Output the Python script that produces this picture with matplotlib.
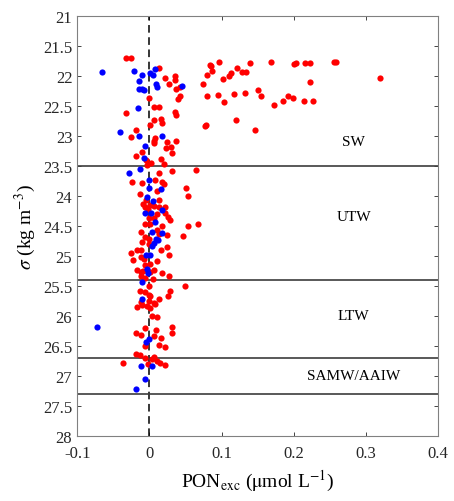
import matplotlib
matplotlib.use("Agg")
import matplotlib.pyplot as plt

# pontos vermelhos (PON_exc, sigma)
red_x = [-0.032, -0.025, 0.013, 0.021, 0.027, 0.035, 0.036, 0.037, 0.043, 0.043, 0.040,
         0.074, 0.080, 0.080, 0.000, 0.006, 0.014, -0.033, 0.035, 0.037, 0.016, 0.006,
         0.001, 0.017, 0.078, -0.018, -0.025, 0.008, 0.006, 0.006, 0.024, 0.037, 0.023,
         0.030, -0.010, 0.031, -0.019, -0.005, 0.002, -0.003, 0.016, 0.020, 0.014, 0.031,
         0.065,
         -0.024, -0.010, 0.008, 0.018, 0.020, 0.010, 0.051, 0.054, -0.013, -0.005, 0.014,
         -0.009, -0.006, 0.001, 0.006, 0.013, 0.021, -0.002, 0.011, 0.021, 0.026, 0.029,
         -0.001, 0.006, -0.006, 0.001, 0.018, 0.054, 0.068, 0.011, 0.013, -0.011, 0.025,
         0.046, -0.006, -0.001,
         -0.010, -0.001, 0.025, 0.016, 0.027, -0.025, -0.017, -0.011, -0.012, -0.008,
         -0.023, 0.010, 0.001, -0.006, -0.017, -0.012, -0.009, 0.001, 0.007, 0.018, 0.027,
         -0.012, -0.006, 0.005, -0.001, 0.050, -0.013, -0.006, 0.028, -0.001, 0.001, 0.026,
         0.014, -0.012, -0.001, 0.007, -0.017, 0.001,
         -0.010, -0.003, 0.008, 0.003, 0.010, -0.006, 0.009, 0.031, 0.032, -0.018, -0.012,
         0.007, 0.016, -0.006, 0.014, 0.021, -0.019, -0.013, -0.006, 0.006, 0.004, -0.036,
         -0.002, 0.010, 0.015, 0.022,
         0.096, 0.084, 0.086, 0.087, 0.102, 0.113, 0.111, 0.121, 0.128, 0.134, 0.139,
         0.095, 0.103, 0.117, 0.133, 0.150, 0.154, 0.168, 0.201, 0.203, 0.215, 0.222,
         0.222, 0.256, 0.258, 0.319, 0.172, 0.185, 0.192, 0.199, 0.214, 0.227, 0.077,
         0.120, 0.146]
red_y = [21.70, 21.70, 21.87, 22.03, 22.13, 22.00, 22.07, 22.22, 22.18, 22.34, 22.38,
         22.14, 21.98, 22.33, 22.37, 22.52, 22.51, 22.62, 22.60, 22.65, 22.72, 22.74,
         22.81, 22.79, 22.82, 22.90, 23.02, 23.04, 23.08, 23.12, 23.10, 23.09, 23.20,
         23.19, 23.26, 23.29, 23.33, 23.40, 23.45, 23.48, 23.39, 23.47, 23.62, 23.59,
         23.57,
         23.76, 23.78, 23.74, 23.77, 23.80, 23.91, 23.87, 24.00, 23.97, 24.07, 24.06,
         24.13, 24.18, 24.15, 24.16, 24.19, 24.18, 24.22, 24.30, 24.29, 24.35, 24.40,
         24.36, 24.36, 24.46, 24.47, 24.50, 24.50, 24.47, 24.57, 24.63, 24.60, 24.65,
         24.67, 24.69, 24.72,
         24.77, 24.80, 24.86, 24.91, 24.99, 24.95, 24.91, 24.90, 25.02, 25.05,
         25.07, 25.08, 25.13, 25.16, 25.23, 25.27, 25.26, 25.27, 25.23, 25.29, 25.33,
         25.34, 25.37, 25.38, 25.50, 25.50, 25.59, 25.61, 25.58, 25.65, 25.67, 25.67,
         25.72, 25.77, 25.76, 25.78, 25.86, 25.87,
         25.82, 25.84, 25.80, 26.00, 26.02, 26.20, 26.23, 26.19, 26.29, 26.29, 26.32,
         26.34, 26.37, 26.50, 26.49, 26.52, 26.64, 26.66, 26.70, 26.68, 26.72, 26.78,
         26.80, 26.76, 26.79, 26.82,
         21.76, 21.81, 21.84, 21.92, 22.05, 21.95, 22.00, 21.87, 21.93, 21.94, 21.79,
         22.32, 22.43, 22.30, 22.28, 22.24, 22.33, 21.77, 21.80, 21.78, 21.78, 21.78,
         22.10, 21.77, 21.76, 22.04, 22.48, 22.41, 22.33, 22.37, 22.42, 22.42, 22.83,
         22.74, 22.90]

# pontos azuis
blue_x = [-0.065, -0.021, 0.001, 0.008, 0.005, -0.010, -0.014, 0.009, 0.011, -0.015,
          -0.010, -0.007, 0.045, -0.016, -0.041, -0.014, 0.018, -0.006, -0.007, -0.013,
          -0.028, -0.001, 0.000, 0.016, -0.003, 0.005, 0.017, -0.006, 0.002, 0.008,
          0.004, 0.017, 0.009, 0.012, 0.006, 0.004, -0.005, 0.001, -0.003, -0.002,
          -0.010, -0.010, -0.072, -0.001, -0.005, -0.012, 0.004, -0.006, -0.018]
blue_y = [21.93, 21.92, 21.95, 21.88, 21.98, 21.99, 22.08, 22.13, 22.18, 22.21,
          22.22, 22.23, 22.17, 22.54, 22.93, 23.00, 23.00, 23.16, 23.37, 23.55,
          23.62, 23.74, 23.86, 23.88, 24.01, 24.08, 24.23, 24.28, 24.28, 24.44,
          24.60, 24.62, 24.72, 24.73, 24.78, 24.83, 24.98, 24.98, 25.22, 25.29,
          25.44, 25.72, 26.19, 26.38, 26.44, 26.83, 26.83, 27.06, 27.22]

limites = [23.5, 25.4, 26.7, 27.3]
camadas = ['SW', 'UTW', 'LTW', 'SAMW/AAIW']
camadas_y = [23.1, 24.35, 26.0, 27.0]

plt.rcParams['font.family'] = ['Liberation Serif', 'DejaVu Serif']
plt.rcParams['mathtext.fontset'] = 'stix'

fig = plt.figure(figsize=(4.54, 5.02), dpi=100)
ax = fig.add_axes([0.170, 0.130, 0.795, 0.836])

ax.scatter(red_x, red_y, s=20, color='#ff0000', linewidths=0, zorder=3)
ax.scatter(blue_x, blue_y, s=20, color='#0000ff', linewidths=0, zorder=3)

ax.axvline(0, color='black', linestyle=(0, (5, 3)), linewidth=1.1, zorder=2)
for lim in limites:
    ax.axhline(lim, color='#3c3c3c', linewidth=1.2, zorder=2)

for nome, yy in zip(camadas, camadas_y):
    ax.text(0.283, yy, nome, fontsize=11, ha='center', va='center')

ax.set_xlim(-0.1, 0.4)
ax.set_ylim(28, 21)
ax.set_xticks([-0.1, 0, 0.1, 0.2, 0.3, 0.4])
ax.set_xticklabels(['-0.1', '0', '0.1', '0.2', '0.3', '0.4'])
ax.set_yticks([21 + 0.5 * i for i in range(15)])
ax.set_yticklabels(['%g' % (21 + 0.5 * i) for i in range(15)])
ax.tick_params(direction='in', top=True, right=True, labelsize=12, colors='#262626',
               length=3, width=0.6)
ax.tick_params(axis='x', pad=7)
for sp in ax.spines.values():
    sp.set_color('#808080')
    sp.set_linewidth(0.8)

ax.set_xlabel(r'PON$_{\rm exc}$ ($\rm\mu$mol L$^{-1}$)', fontsize=14, labelpad=5)
ax.set_ylabel(r'$\sigma$ (kg m$^{-3}$)', fontsize=14, labelpad=4)

fig.savefig('out.png', dpi=100)
